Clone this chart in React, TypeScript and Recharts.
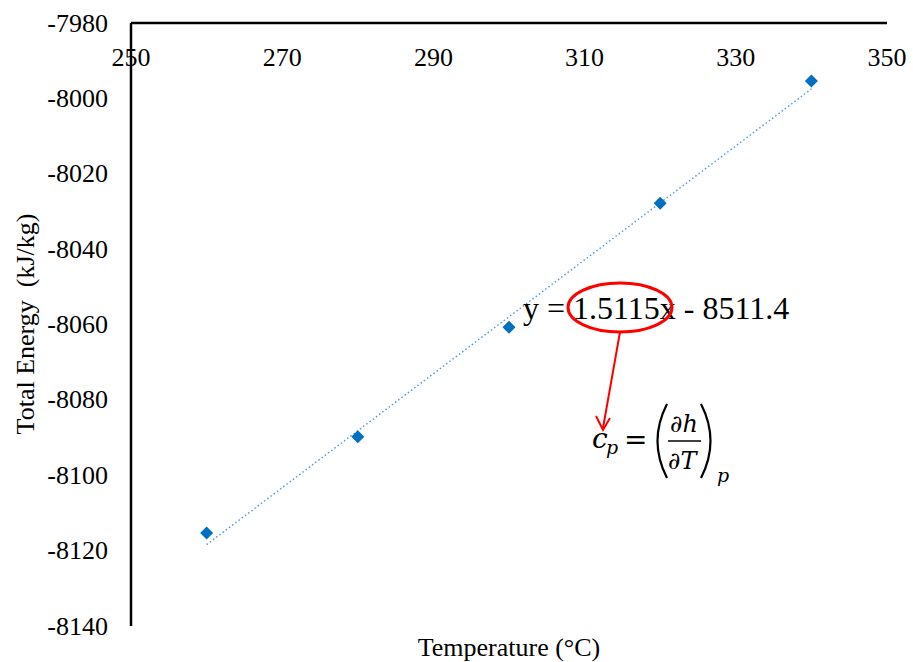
import { ComposedChart, Scatter, Line, XAxis, YAxis } from "recharts"

// temperatures (°C) and total energy (kJ/kg)
const temps = [260, 280, 300, 320, 340]
const energy = [-8115.3, -8089.8, -8060.7, -8027.8, -7995.4]

// linear trendline endpoints (y = 1.5115x - 8511.4)
const trendTemps = [260, 340]
const trendEnergy = [-8118.4, -7997.5]

const xTicks = [250, 270, 290, 310, 330, 350]
const yTicks = [-8140, -8120, -8100, -8080, -8060, -8040, -8020, -8000, -7980]

const points = temps.map((t, i) => ({ t, e: energy[i] }))
const trend = trendTemps.map((t, i) => ({ t, e: trendEnergy[i] }))

const font = "'Liberation Serif', 'Times New Roman', serif"
const mathFont = "'DejaVu Serif', serif"
const serif = { fontFamily: font }

const Diamond = (props: any) => {
  const { cx, cy } = props
  const r = 6.5
  return <path d={`M${cx},${cy - r}L${cx + r},${cy}L${cx},${cy + r}L${cx - r},${cy}Z`} fill="#0070C0" />
}

const XTick = (props: any) => {
  const { x, payload } = props
  return (
    <text x={x} y={57} textAnchor="middle" dominantBaseline="central" fontSize={26} style={serif} fill="#000">
      {payload.value}
    </text>
  )
}

const YTick = (props: any) => {
  const { y, payload } = props
  return (
    <text x={108} y={y} textAnchor="end" dominantBaseline="central" fontSize={26} style={serif} fill="#000">
      {payload.value}
    </text>
  )
}

export default function App() {
  return (
    <div style={{ position: "absolute", left: 0, top: 0, width: 913, height: 662, background: "#fff" }}>
      <ComposedChart width={913} height={662} margin={{ top: 3, right: 26, bottom: 36, left: 31 }}>
        <XAxis
          type="number"
          dataKey="t"
          orientation="top"
          domain={[250, 350]}
          ticks={xTicks}
          height={20}
          tickLine={false}
          axisLine={{ stroke: "#000", strokeWidth: 2.5 }}
          tick={<XTick />}
          allowDataOverflow
        />
        <YAxis
          type="number"
          dataKey="e"
          domain={[-8140, -7980]}
          ticks={yTicks}
          width={100}
          tickLine={false}
          axisLine={{ stroke: "#000", strokeWidth: 2.5 }}
          tick={<YTick />}
          allowDataOverflow
        />
        <Line
          data={trend}
          dataKey="e"
          type="linear"
          stroke="#5B9BD5"
          strokeWidth={1.5}
          strokeDasharray="1.5 2.5"
          dot={false}
          activeDot={false}
          isAnimationActive={false}
        />
        <Scatter data={points} dataKey="e" shape={<Diamond />} isAnimationActive={false} />
      </ComposedChart>
      <svg width={913} height={662} style={{ position: "absolute", left: 0, top: 0, pointerEvents: "none" }}>
        <text x={25} y={324} transform="rotate(-90 25 324)" textAnchor="middle" dominantBaseline="central" fontSize={26} style={serif} xmlSpace="preserve">
          Total Energy  (kJ/kg)
        </text>
        <text x={509} y={647} textAnchor="middle" dominantBaseline="central" fontSize={26} style={serif}>
          Temperature (°C)
        </text>
        <text x={523} y={308} dominantBaseline="central" fontSize={32} style={serif} xmlSpace="preserve">
          y = 1.5115x - 8511.4
        </text>
        <ellipse cx={620} cy={307.5} rx={52} ry={24.5} fill="none" stroke="#FF0000" strokeWidth={3} />
        <line x1={620} y1={332} x2={603} y2={428} stroke="#FF0000" strokeWidth={2} />
        <polyline points="596,416 603,430 610,418" fill="none" stroke="#FF0000" strokeWidth={2} />
        <g style={{ fontFamily: mathFont }} fontStyle="italic" fill="#000">
          <text x={592} y={448} fontSize={28}>c</text>
          <text x={606} y={454} fontSize={19}>p</text>
          <text x={624} y={449} fontSize={28} fontStyle="normal">=</text>
          <path d="M667,404 Q648,441 667,478" fill="none" stroke="#000" strokeWidth={2.2} />
          <text x={670} y={432} fontSize={24}>∂h</text>
          <line x1={668} y1={441} x2={701} y2={441} stroke="#000" strokeWidth={1.5} />
          <text x={668} y={469} fontSize={24}>∂T</text>
          <path d="M701,404 Q720,441 701,478" fill="none" stroke="#000" strokeWidth={2.2} />
          <text x={717} y={482} fontSize={19}>p</text>
        </g>
      </svg>
    </div>
  )
}
